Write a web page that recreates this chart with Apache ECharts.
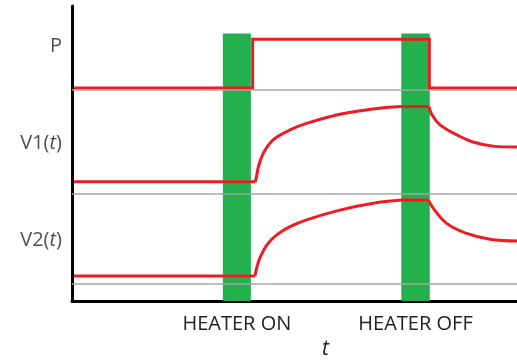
<!DOCTYPE html>
<html>
<head>
<meta charset="utf-8">
<script src="https://cdn.jsdelivr.net/npm/echarts@6/dist/echarts.min.js"></script>
<style>
  html, body { margin: 0; padding: 0; background: #fff; }
  #main { width: 517px; height: 360px; }
</style>
</head>
<body>
<div id="main"></div>
<script>
// time in arbitrary units (0..100), signal level in arbitrary units (0..100)
// straight pieces ('-' breaks the line) and curved pieces of each trace
var pSignal = [[0.45, 72.2], [40.6, 72.2], [40.6, 88.7], [80.3, 88.7], [80.3, 72.2], [100, 72.2]];
var v1Flat = [[0.45, 40.4], [41.1, 40.4], '-', [74.0, 65.9], [80.2, 65.9]];
var v1Rise = [[41.1, 40.4], [41.3, 41.0], [41.9, 45.5], [43.0, 50.1], [45.2, 54.6], [49.0, 58.0],
  [52.7, 60.2], [60.2, 63.3], [67.7, 65.1], [74.0, 65.9]];
var v1Decay = [[80.2, 65.9], [80.9, 63.1], [82.7, 59.7], [86.5, 56.3], [90.1, 53.9], [94.6, 52.5], [100, 52.2]];
var v2Flat = [[0.45, 8.5], [41.1, 8.5], '-', [74.0, 34.2], [80.1, 34.2]];
var v2Rise = [[41.1, 8.5], [41.5, 11.1], [42.2, 14.5], [43.8, 19.0], [46.0, 22.4], [49.0, 25.2],
  [52.7, 27.5], [60.2, 30.8], [67.7, 33.1], [74.0, 34.2]];
var v2Decay = [[80.1, 34.2], [81.2, 31.4], [84.2, 26.3], [88.7, 22.9], [93.9, 20.9], [100, 20.3]];
var baselines = [71.7, 36.2, 5.7];
var heaterPeriods = [[33.9, 40.2], [74.0, 80.4]];
var heaterTop = 90.7;
var heaterLabels = ['HEATER ON', 'HEATER OFF'];
var rowLabels = ['P', 'V1({it|t})', 'V2({it|t})'];
var rowLevels = [86.4, 53.4, 20.7];

var myChart = echarts.init(document.getElementById('main'));

var textColor = '#222';
var font = 'Open Sans';
var red = '#ed1c24';

var redLine = function (data, smooth) {
  return {
    type: 'line',
    data: data,
    z: 3,
    symbol: 'none',
    smooth: smooth,
    lineStyle: { color: red, width: 3, join: 'miter' }
  };
};

myChart.setOption({
  animation: false,
  grid: { left: 72, right: 0, top: 6, bottom: 59, outerBoundsMode: 'none' },
  xAxis: {
    type: 'value',
    min: 0,
    max: 100,
    name: 't',
    nameLocation: 'middle',
    nameGap: 38,
    nameTextStyle: { fontFamily: font, fontStyle: 'italic', fontSize: 21, color: textColor, padding: [0, 0, 0, 62] },
    axisLine: { lineStyle: { color: '#000', width: 3 } },
    axisTick: { show: false },
    axisLabel: { show: false },
    splitLine: { show: false }
  },
  yAxis: {
    type: 'value',
    min: 0,
    max: 100,
    axisLine: { show: true, lineStyle: { color: '#000', width: 3 } },
    axisTick: { show: false },
    axisLabel: { show: false },
    splitLine: { show: false }
  },
  series: [
    {
      type: 'line',
      data: [],
      z: 1,
      markArea: {
        silent: true,
        itemStyle: { color: '#22b14c' },
        label: {
          show: true,
          position: 'bottom',
          distance: 13,
          fontFamily: font,
          fontSize: 20,
          color: textColor
        },
        data: heaterPeriods.map(function (p, i) {
          return [{ name: heaterLabels[i], xAxis: p[0], yAxis: 0 }, { xAxis: p[1], yAxis: heaterTop }];
        })
      },
      markLine: {
        silent: true,
        symbol: 'none',
        label: { show: false },
        lineStyle: { color: '#a6a6a6', width: 1.5, type: 'solid' },
        data: baselines.map(function (v) { return { yAxis: v }; })
      }
    },
    redLine(pSignal, false),
    redLine(v1Flat, false),
    redLine(v1Rise, 0.4),
    redLine(v1Decay, 0.4),
    redLine(v2Flat, false),
    redLine(v2Rise, 0.4),
    redLine(v2Decay, 0.4),
    {
      type: 'scatter',
      symbolSize: 0,
      clip: false,
      z: 4,
      data: rowLevels.map(function (v, i) { return { value: [0, v], name: rowLabels[i] }; }),
      label: {
        show: true,
        position: 'left',
        distance: 10,
        formatter: function (p) { return p.name; },
        fontFamily: font,
        fontSize: 20,
        color: textColor,
        rich: {
          it: { fontFamily: font, fontSize: 20, fontStyle: 'italic', color: textColor }
        }
      }
    }
  ]
});

window.addEventListener('resize', function () {
  myChart.resize();
});
</script>
</body>
</html>
